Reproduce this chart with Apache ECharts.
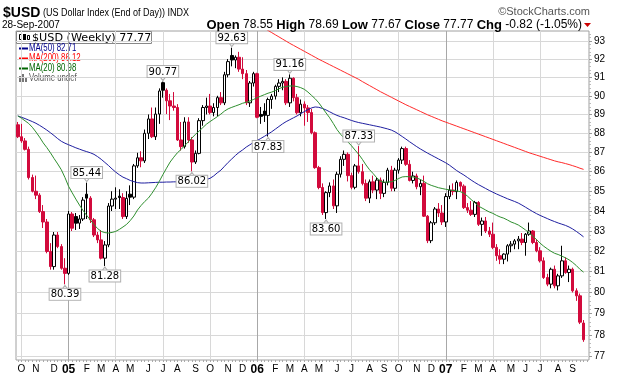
<!DOCTYPE html>
<html><head><meta charset="utf-8">
<script src="https://cdn.jsdelivr.net/npm/echarts@6/dist/echarts.min.js"></script>
<style>html,body{margin:0;padding:0;background:#fff}#c{width:620px;height:376px}</style>
</head><body><div id="c"></div>
<script>
// ---- data (weekly candles, week starting Monday) ----
const firstWeekStart = [2004, 8, 27]; // 27-Sep-2004
const opens = [88.45,87.82,87.60,87.16,85.70,85.00,84.80,83.97,83.45,81.99,81.25,82.80,82.23,81.17,80.92,83.85,83.72,83.39,83.60,84.85,
84.65,83.56,82.80,82.56,81.66,82.31,84.25,84.60,84.75,84.68,83.72,84.85,84.70,86.30,86.72,86.56,88.00,88.76,87.82,89.02,
90.71,90.30,89.73,89.45,89.37,87.65,87.30,88.60,87.65,86.50,86.95,88.67,89.37,89.45,89.10,89.37,89.90,89.62,91.14,92.20,
91.95,92.10,91.45,91.20,89.62,90.69,91.20,89.00,89.18,88.95,89.80,89.98,90.51,90.69,90.78,89.62,90.95,89.90,89.09,89.55,
89.35,89.10,88.03,86.21,85.19,83.92,84.93,85.27,84.26,85.87,86.64,86.90,85.80,85.20,86.30,86.00,85.40,84.65,85.48,85.06,
85.57,84.89,85.45,86.08,85.15,86.08,86.60,87.20,86.38,85.55,85.78,85.23,85.40,83.74,82.52,83.41,84.10,83.90,83.45,84.73,
85.06,84.98,85.45,85.26,84.17,84.04,83.83,84.43,83.33,83.50,83.00,82.84,82.19,81.78,81.61,81.86,82.27,82.35,82.51,82.60,
82.43,82.84,83.00,82.43,82.02,81.53,80.72,80.40,81.12,80.32,80.80,81.53,80.96,81.12,80.08,79.84,78.55];
const highs = [88.60,88.50,87.75,87.30,85.85,85.80,84.90,84.30,83.60,82.40,82.95,82.95,82.35,81.66,84.00,83.95,83.90,83.80,84.70,85.44,
84.75,83.65,82.95,83.05,82.50,84.40,85.00,85.20,85.10,84.90,85.00,85.30,86.40,86.98,87.06,88.20,89.00,89.37,89.37,90.40,
90.77,90.40,90.10,90.20,89.55,88.60,88.85,88.85,87.80,87.10,88.80,89.50,89.90,90.10,89.60,90.00,90.20,91.30,92.00,92.63,
92.20,92.40,92.10,91.40,90.80,91.30,91.25,89.40,89.60,89.90,90.10,90.60,90.90,91.00,90.90,91.16,91.00,90.10,89.80,89.70,
89.50,89.30,88.10,86.30,85.40,85.00,85.45,85.60,86.00,86.80,87.10,87.00,85.95,86.40,87.33,86.40,85.60,85.60,85.80,85.70,
85.70,85.60,86.20,86.30,86.20,86.70,87.30,87.30,86.60,86.00,85.90,85.60,85.80,83.80,83.50,84.20,84.40,84.30,84.90,85.30,
85.40,85.55,85.50,85.35,84.40,84.50,84.51,84.50,83.67,83.70,83.20,83.42,82.35,82.10,81.90,82.35,82.50,82.60,82.75,82.90,
82.90,83.42,83.05,82.60,82.20,81.70,80.90,81.20,81.30,80.90,82.27,81.70,81.30,81.20,80.20,79.95,78.69];
const lows = [87.75,87.50,87.10,85.60,84.94,84.60,83.90,83.15,81.90,81.10,81.10,82.15,81.10,80.39,80.85,83.00,83.05,83.10,83.50,83.60,
83.40,82.70,82.40,81.60,81.28,82.20,84.00,84.10,84.10,83.60,83.60,84.30,84.60,86.20,86.23,86.45,87.70,87.75,87.65,88.50,
89.90,89.02,88.70,89.20,87.60,87.10,87.20,87.50,86.02,86.40,86.90,88.40,89.00,89.00,88.90,88.90,89.50,89.50,91.00,91.60,
91.50,91.30,90.90,89.50,89.40,90.50,88.80,88.50,88.60,87.83,89.30,89.80,90.20,90.30,89.50,89.40,89.70,89.00,88.90,88.40,
88.60,87.95,86.15,85.10,83.80,83.60,84.70,84.10,83.90,85.70,86.30,85.50,85.10,85.10,85.90,85.30,84.50,84.40,84.90,84.60,
84.60,84.70,85.30,85.00,85.00,85.90,86.40,86.30,85.50,85.40,85.10,84.80,83.70,82.40,82.40,83.30,83.70,83.30,83.20,84.60,
84.80,84.60,85.00,84.10,83.90,83.75,83.70,83.25,82.76,82.90,82.70,82.10,81.53,81.37,81.37,81.50,81.95,82.10,82.10,82.30,
81.78,82.76,82.35,81.95,81.45,80.65,80.30,80.20,80.20,80.10,80.70,80.90,80.50,80.00,79.60,78.50,77.67];
const closes = [87.82,87.60,87.16,85.70,85.00,84.80,83.97,83.45,81.99,81.25,82.80,82.23,81.17,80.92,83.85,83.14,83.39,83.60,84.55,84.65,
83.56,82.80,82.56,81.66,82.31,84.25,84.60,84.65,84.68,83.72,84.64,84.70,86.30,86.72,86.56,88.00,88.76,87.82,89.02,90.26,
90.30,89.73,89.45,89.37,87.65,87.30,88.60,87.65,86.50,86.95,88.67,89.37,89.45,89.10,89.37,89.90,89.62,91.14,91.86,91.95,
92.10,91.45,91.20,89.62,90.69,91.20,88.85,88.90,88.95,89.80,89.98,90.51,90.69,90.78,89.62,90.95,89.90,89.09,89.55,89.35,
89.10,88.03,86.21,85.19,83.92,84.93,85.27,84.26,85.87,86.64,86.90,85.80,85.20,86.30,86.00,85.40,84.65,85.48,85.06,85.57,
84.89,85.45,86.08,85.15,86.08,86.60,87.20,86.38,85.55,85.78,85.23,85.40,83.74,82.52,83.41,84.10,83.90,83.45,84.73,85.06,
84.98,85.45,85.26,84.17,84.04,83.83,84.43,83.33,83.50,83.00,82.84,82.19,81.78,81.61,81.86,82.27,82.35,82.51,82.60,82.43,
82.84,83.00,82.43,82.02,81.53,80.72,80.40,81.12,80.32,80.80,81.53,80.96,81.12,80.08,79.84,78.59,77.77];
const ma50 = [88.92,88.85,88.78,88.70,88.62,88.53,88.42,88.30,88.17,88.03,87.88,87.72,87.58,87.48,87.40,87.32,87.24,87.17,87.10,87.04,
86.98,86.90,86.78,86.64,86.48,86.32,86.14,85.98,85.84,85.72,85.64,85.55,85.49,85.44,85.42,85.42,85.43,85.44,85.45,85.46,
85.46,85.47,85.47,85.48,85.48,85.48,85.49,85.49,85.50,85.52,85.54,85.56,85.60,85.66,85.78,85.94,86.08,86.28,86.48,86.66,
86.84,87.00,87.13,87.28,87.40,87.52,87.62,87.73,87.84,87.96,88.08,88.22,88.36,88.50,88.62,88.72,88.82,88.92,89.04,89.15,
89.26,89.35,89.40,89.38,89.32,89.24,89.14,89.04,88.95,88.88,88.82,88.75,88.68,88.62,88.57,88.53,88.49,88.45,88.41,88.37,
88.33,88.28,88.23,88.17,88.08,87.96,87.83,87.70,87.56,87.43,87.30,87.18,87.07,86.96,86.86,86.76,86.66,86.56,86.46,86.34,
86.20,86.06,85.94,85.83,85.70,85.57,85.45,85.34,85.24,85.14,85.04,84.95,84.86,84.78,84.70,84.62,84.55,84.48,84.40,84.30,
84.19,84.08,83.97,83.87,83.78,83.70,83.62,83.54,83.47,83.40,83.34,83.28,83.20,83.10,82.98,82.85,82.71];
const ma20 = [88.92,88.80,88.66,88.52,88.32,88.07,87.80,87.50,87.25,86.98,86.68,86.40,86.10,85.70,85.25,84.92,84.60,84.30,84.02,83.78,
83.55,83.32,83.12,82.98,82.92,82.90,82.93,82.98,83.08,83.20,83.33,83.52,83.75,84.05,84.28,84.48,84.65,84.90,85.18,85.50,
85.85,86.18,86.50,86.75,86.98,87.15,87.35,87.55,87.75,87.95,88.12,88.30,88.48,88.62,88.75,88.88,89.02,89.18,89.30,89.38,
89.45,89.52,89.60,89.65,89.72,89.80,89.90,89.98,90.06,90.14,90.20,90.28,90.38,90.46,90.50,90.53,90.53,90.50,90.44,90.35,
90.20,90.02,89.84,89.62,89.35,89.08,88.82,88.52,88.20,87.95,87.75,87.55,87.35,87.12,86.90,86.64,86.35,86.10,85.90,85.68,
85.52,85.46,85.47,85.48,85.55,85.65,85.73,85.75,85.74,85.73,85.68,85.60,85.50,85.38,85.30,85.24,85.18,85.14,85.10,85.07,
85.04,85.02,84.98,84.90,84.75,84.58,84.42,84.25,84.15,84.05,83.95,83.88,83.78,83.70,83.64,83.55,83.45,83.38,83.30,83.18,
83.05,82.90,82.75,82.58,82.40,82.25,82.12,82.00,81.90,81.84,81.76,81.68,81.58,81.45,81.30,81.12,80.98];
const ma200 = [null,null,null,null,null,null,null,null,null,null,null,null,null,null,null,null,null,null,null,null,
null,null,null,null,null,null,null,null,null,null,null,null,null,null,null,null,null,null,null,null,
null,null,null,null,null,null,null,null,null,null,null,null,null,null,null,null,null,null,null,null,
null,null,null,null,null,null,93.95,93.83,93.71,93.59,93.47,93.35,93.23,93.11,92.99,92.87,92.76,92.65,92.54,92.43,
92.32,92.21,92.10,91.99,91.89,91.79,91.69,91.59,91.49,91.39,91.29,91.19,91.09,90.99,90.89,90.77,90.66,90.55,90.44,90.33,
90.22,90.12,90.02,89.92,89.82,89.72,89.62,89.52,89.43,89.34,89.25,89.16,89.07,88.98,88.90,88.82,88.74,88.66,88.59,88.52,
88.45,88.38,88.31,88.24,88.17,88.10,88.03,87.96,87.89,87.82,87.75,87.68,87.61,87.54,87.47,87.40,87.33,87.26,87.19,87.12,
87.05,86.98,86.92,86.86,86.80,86.74,86.68,86.62,86.56,86.51,86.47,86.42,86.37,86.31,86.25,86.18,86.12];
const yTickValues = [77,78,79,80,81,82,83,84,85,86,87,88,89,90,91,92,93];
const monthInitials = ['J','F','M','A','M','J','J','A','S','O','N','D'];
const highLabelIdx = [19, 40, 59, 75, 94];
const lowLabelIdx = [13, 24, 48, 69, 85];
const headerTitle = ['$USD', '(US Dollar Index (End of Day)) INDX'];
const headerDate = '28-Sep-2007';
const headerChg = ['-0.82', '(-1.05%)'];

// ---- derived ----
const FONT = 'Liberation Sans, Arial, sans-serif';
const RED = '#d20a3c', BLACK = '#000000';
const nWeeks = closes.length;
const cats = [];
const d0 = Date.UTC(firstWeekStart[0], firstWeekStart[1], firstWeekStart[2]);
for (let i = 0; i <= nWeeks; i++) cats.push(new Date(d0 + i * 7 * 864e5).toISOString().slice(0, 10));
const monthOf = i => +cats[i].slice(5, 7) - 1;
const isMonthStart = i => i > 0 && i < nWeeks && monthOf(i) !== monthOf(i - 1);
const isQuarterStart = i => isMonthStart(i) && monthOf(i) % 3 === 0;

const candleData = closes.map((c, i) => {
  const o = opens[i];
  const prev = i > 0 ? closes[i - 1] : Infinity;
  const col = c < prev ? RED : BLACK;
  const st = c >= o
    ? { color: '#fff', color0: '#fff', borderColor: col, borderColor0: col }
    : { color: col, color0: col, borderColor: col, borderColor0: col };
  return { value: [o, c, lows[i], highs[i]], itemStyle: st };
});

const lbl = {
  show: true, color: '#000', fontSize: 10, fontFamily: 'DejaVu Sans, sans-serif',
  backgroundColor: '#fff', borderColor: '#b0b0b0', borderWidth: 1, padding: [1, 1, 0, 1]
};
const markData = [];
highLabelIdx.forEach(i => {
  markData.push({ coord: [cats[i], highs[i]], symbol: 'triangle', symbolSize: [6, 4], symbolRotate: 180, symbolOffset: [0, -3],
    itemStyle: { color: '#fff', borderColor: '#b0b0b0', borderWidth: 1 }, label: { show: false } });
  markData.push({ coord: [cats[i], highs[i]], value: highs[i].toFixed(2), label: Object.assign({}, lbl, { position: 'top', distance: 4 }) });
});
lowLabelIdx.forEach(i => {
  markData.push({ coord: [cats[i], lows[i]], symbol: 'triangle', symbolSize: [6, 4], symbolOffset: [0, 3],
    itemStyle: { color: '#fff', borderColor: '#b0b0b0', borderWidth: 1 }, label: { show: false } });
  markData.push({ coord: [cats[i], lows[i]], value: lows[i].toFixed(2), label: Object.assign({}, lbl, { position: 'bottom', distance: 4 }) });
});

const minorTicks = [];
for (let v = 770; v <= 935; v += 2) if (v % 10) minorTicks.push(v / 10);

const last = nWeeks - 1;
const g = [];
const SMALL = '10px Liberation Sans, Arial, sans-serif';
// header
g.push({ type: 'text', x: 3, y: 13, style: { text: headerTitle[0], font: 'bold 14px ' + FONT, fill: '#000', textVerticalAlign: 'middle' } });
g.push({ type: 'text', x: 43, y: 13, scaleX: 0.9, style: { text: headerTitle[1], font: '10px ' + FONT, fill: '#000', textVerticalAlign: 'middle' } });
g.push({ type: 'text', x: 590, y: 12, style: { text: '\u00A9StockCharts.com', font: '11px ' + FONT, fill: '#555', textAlign: 'right', textVerticalAlign: 'middle' } });
g.push({ type: 'text', x: 2, y: 25, style: { text: headerDate, font: '10px ' + FONT, fill: '#000', textVerticalAlign: 'middle' } });
g.push({ type: 'text', x: 582, y: 25, style: {
  text: '{b|Open} ' + opens[last].toFixed(2) + ' {b|High} ' + highs[last].toFixed(2) + ' {b|Low} ' + lows[last].toFixed(2) +
        ' {b|Close} ' + closes[last].toFixed(2) + ' {b|Chg} ' + headerChg[0] + ' ' + headerChg[1],
  font: '12px ' + FONT, fill: '#000', textAlign: 'right', textVerticalAlign: 'middle',
  rich: { b: { font: 'bold 13px ' + FONT, fill: '#000' } } } });
g.push({ type: 'polygon', shape: { points: [[584, 23], [591, 23], [587.5, 27]] }, style: { fill: '#cc0000' } });
// legend box
g.push({ type: 'rect', shape: { x: 16.5, y: 31.5, width: 135, height: 12 }, style: { fill: '#fff', stroke: '#888' } });
g.push({ type: 'rect', shape: { x: 19.5, y: 34.5, width: 2, height: 5 }, style: { fill: '#fff', stroke: '#000' } });
g.push({ type: 'rect', shape: { x: 23, y: 34, width: 3, height: 6 }, style: { fill: '#000' } });
g.push({ type: 'rect', shape: { x: 27.5, y: 35.5, width: 2, height: 4 }, style: { fill: '#fff', stroke: '#000' } });
g.push({ type: 'text', x: 32, y: 38, style: { text: '$USD (Weekly) ' + closes[last].toFixed(2), font: '11.2px DejaVu Sans, sans-serif', fill: '#000', textVerticalAlign: 'middle' } });
const legendRows = [['MA(50) ' + ma50[last].toFixed(2), '#00008b'], ['MA(200) ' + ma200[last].toFixed(2), '#ff0000'], ['MA(20) ' + ma20[last].toFixed(2), '#006400']];
legendRows.forEach((r, k) => {
  const y = 48 + k * 10;
  g.push({ type: 'line', shape: { x1: 19, y1: y + 0.5, x2: 28, y2: y + 0.5 }, style: { stroke: r[1], lineWidth: 2 } });
  g.push({ type: 'text', x: 29, y: y, scaleX: 0.78, style: { text: r[0], font: SMALL, fill: r[1], textVerticalAlign: 'middle' } });
});
[[19, 76, 4], [22, 74, 6], [25, 77, 3]].forEach(b => g.push({ type: 'rect', shape: { x: b[0], y: b[1], width: 2, height: b[2] + 2 }, style: { fill: '#777' } }));
g.push({ type: 'text', x: 29, y: 78, scaleX: 0.78, style: { text: 'Volume undef', font: SMALL, fill: '#555', textVerticalAlign: 'middle' } });

const option = {
  animation: false,
  backgroundColor: '#fff',
  textStyle: { fontFamily: FONT },
  grid: { left: 16, right: 31, top: 31, bottom: 16, show: true, borderColor: '#a0a0a0', borderWidth: 1, backgroundColor: '#fff' },
  xAxis: [{
    type: 'category', data: cats, boundaryGap: true,
    axisLine: { show: false },
    axisTick: { show: true, alignWithLabel: true, interval: 0, length: 2, lineStyle: { color: '#aaa' } },
    axisLabel: {
      interval: (i) => isMonthStart(i), margin: 4, color: '#000', fontSize: 10, fontFamily: FONT,
      formatter: (v) => { const m = +v.slice(5, 7) - 1; return m === 0 ? '{y|' + v.slice(2, 4) + '}' : monthInitials[m]; },
      rich: { y: { fontWeight: 'bold', fontSize: 12, fontFamily: FONT, color: '#000' } }
    },
    splitLine: { show: true, alignWithLabel: true, interval: (i) => isQuarterStart(i), lineStyle: { color: ['#d8d8d8', '#a8a8a8', '#d8d8d8', '#d8d8d8'], width: 1 } }
  }],
  yAxis: [{
    type: 'log', logBase: 10, position: 'right', min: 76.83, max: 93.56,
    axisLine: { show: false },
    axisTick: { show: true, customValues: yTickValues, length: 3, lineStyle: { color: '#999' } },
    axisLabel: { customValues: yTickValues, color: '#000', fontSize: 10, margin: 5, fontFamily: FONT },
    splitLine: { show: true, customValues: yTickValues, lineStyle: { color: '#d8d8d8' } }
  }, {
    type: 'log', logBase: 10, position: 'right', min: 76.83, max: 93.56,
    axisLine: { show: false },
    axisTick: { show: true, customValues: minorTicks, length: 2, lineStyle: { color: '#bbb' } },
    axisLabel: { show: false, customValues: minorTicks },
    splitLine: { show: false }
  }],
  series: [
    { type: 'candlestick', name: 'USD', data: candleData, barWidth: 3, itemStyle: { borderWidth: 1 }, z: 3,
      markPoint: { symbol: 'rect', symbolSize: 1, itemStyle: { color: 'rgba(0,0,0,0)' }, silent: true, data: markData } },
    { type: 'line', name: 'MA(50)', data: ma50, symbol: 'none', lineStyle: { color: '#1f1fa0', width: 1 }, z: 4 },
    { type: 'line', name: 'MA(200)', data: ma200, symbol: 'none', lineStyle: { color: '#ff2a2a', width: 1 }, z: 4 },
    { type: 'line', name: 'MA(20)', data: ma20, symbol: 'none', lineStyle: { color: '#2f8f2f', width: 1 }, z: 4 }
  ],
  graphic: g
};
const chart = echarts.init(document.getElementById('c'));
chart.setOption(option);
</script></body></html>
